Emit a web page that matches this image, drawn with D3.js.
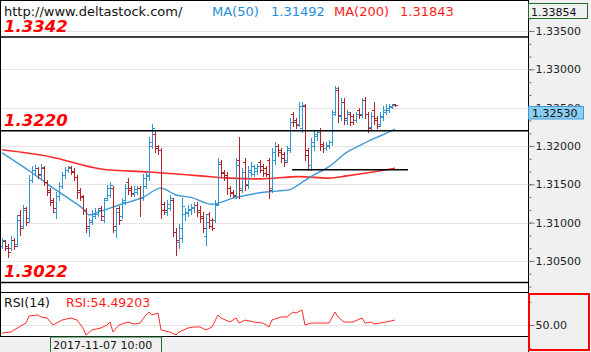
<!DOCTYPE html>
<html><head><meta charset="utf-8">
<script src="https://cdn.jsdelivr.net/npm/d3@7"></script>
<style>body{margin:0;background:#fff}svg{display:block}</style>
</head><body>
<svg id="c" width="591" height="352"></svg>
<script>
// ---------- data ----------
const opens = [1.3070,1.3076,1.3070,1.3067,1.3077,1.3072,1.3110,1.3096,1.3119,1.3106,
1.3156,1.3169,1.3171,1.3162,1.3171,1.3153,1.3143,1.3130,1.3114,1.3135,
1.3148,1.3162,1.3169,1.3173,1.3167,1.3160,1.3143,1.3135,1.3117,1.3093,
1.3101,1.3109,1.3111,1.3119,1.3103,1.3132,1.3136,1.3145,1.3090,1.3119,
1.3109,1.3127,1.3153,1.3145,1.3137,1.3140,1.3145,1.3132,1.3148,1.3161,
1.3200,1.3216,1.3200,1.3195,1.3124,1.3114,1.3119,1.3130,1.3088,1.3075,
1.3080,1.3111,1.3113,1.3117,1.3119,1.3123,1.3117,1.3109,1.3083,1.3111,
1.3103,1.3103,1.3124,1.3177,1.3166,1.3162,1.3145,1.3140,1.3135,1.3182,
1.3145,1.3179,1.3150,1.3166,1.3163,1.3167,1.3179,1.3174,1.3171,1.3182,
1.3145,1.3182,1.3200,1.3195,1.3190,1.3182,1.3197,1.3242,1.3234,1.3229,
1.3223,1.3252,1.3195,1.3175,1.3200,1.3213,1.3221,1.3203,1.3197,1.3200,
1.3205,1.3244,1.3273,1.3239,1.3257,1.3234,1.3242,1.3239,1.3234,1.3247,
1.3242,1.3260,1.3242,1.3225,1.3247,1.3237,1.3229,1.3238,1.3244,1.3247,1.3251,1.3255];
const highs = [1.3080,1.3077,1.3072,1.3083,1.3080,1.3110,1.3117,1.3123,1.3120,1.3162,
1.3174,1.3175,1.3173,1.3177,1.3174,1.3156,1.3145,1.3132,1.3140,1.3153,
1.3166,1.3173,1.3174,1.3174,1.3171,1.3162,1.3145,1.3136,1.3119,1.3106,
1.3117,1.3119,1.3119,1.3122,1.3132,1.3149,1.3153,1.3148,1.3119,1.3122,
1.3132,1.3150,1.3158,1.3148,1.3148,1.3148,1.3148,1.3163,1.3166,1.3212,
1.3229,1.3221,1.3201,1.3197,1.3127,1.3130,1.3136,1.3132,1.3093,1.3098,
1.3132,1.3119,1.3123,1.3124,1.3127,1.3127,1.3122,1.3114,1.3111,1.3114,
1.3106,1.3130,1.3184,1.3182,1.3169,1.3166,1.3148,1.3143,1.3184,1.3212,
1.3171,1.3184,1.3174,1.3179,1.3175,1.3177,1.3182,1.3177,1.3174,1.3184,
1.3197,1.3205,1.3203,1.3197,1.3192,1.3200,1.3237,1.3244,1.3237,1.3257,
1.3257,1.3255,1.3197,1.3210,1.3221,1.3221,1.3223,1.3205,1.3205,1.3208,
1.3247,1.3278,1.3277,1.3263,1.3263,1.3247,1.3244,1.3242,1.3244,1.3250,
1.3263,1.3264,1.3244,1.3244,1.3257,1.3239,1.3244,1.3252,1.3255,1.3255,1.3255,1.3255];
const lows = [1.3067,1.3064,1.3055,1.3064,1.3066,1.3070,1.3084,1.3093,1.3097,1.3101,
1.3153,1.3162,1.3158,1.3158,1.3149,1.3136,1.3123,1.3114,1.3106,1.3130,
1.3145,1.3158,1.3166,1.3163,1.3156,1.3132,1.3130,1.3111,1.3088,1.3083,
1.3098,1.3106,1.3109,1.3103,1.3101,1.3130,1.3133,1.3088,1.3081,1.3098,
1.3106,1.3124,1.3137,1.3135,1.3135,1.3137,1.3109,1.3130,1.3145,1.3156,
1.3197,1.3192,1.3190,1.3106,1.3111,1.3110,1.3117,1.3083,1.3058,1.3067,
1.3075,1.3103,1.3109,1.3111,1.3114,1.3109,1.3101,1.3088,1.3071,1.3093,
1.3090,1.3101,1.3123,1.3161,1.3156,1.3137,1.3135,1.3133,1.3132,1.3132,
1.3140,1.3143,1.3145,1.3161,1.3161,1.3163,1.3166,1.3161,1.3161,1.3132,
1.3140,1.3177,1.3187,1.3179,1.3174,1.3179,1.3192,1.3226,1.3223,1.3226,
1.3218,1.3182,1.3169,1.3169,1.3195,1.3208,1.3195,1.3192,1.3195,1.3197,
1.3201,1.3240,1.3231,1.3234,1.3229,1.3229,1.3227,1.3229,1.3231,1.3237,
1.3238,1.3237,1.3218,1.3221,1.3229,1.3223,1.3226,1.3234,1.3242,1.3244,1.3250,1.3252];
const closes = [1.3077,1.3067,1.3062,1.3077,1.3070,1.3103,1.3093,1.3117,1.3101,1.3156,
1.3169,1.3171,1.3163,1.3173,1.3153,1.3140,1.3127,1.3119,1.3135,1.3148,
1.3162,1.3169,1.3171,1.3166,1.3160,1.3140,1.3133,1.3117,1.3096,1.3103,
1.3111,1.3114,1.3117,1.3109,1.3130,1.3145,1.3149,1.3096,1.3114,1.3103,
1.3130,1.3145,1.3143,1.3139,1.3144,1.3145,1.3132,1.3158,1.3162,1.3205,
1.3223,1.3197,1.3195,1.3117,1.3117,1.3124,1.3132,1.3088,1.3077,1.3093,
1.3122,1.3114,1.3118,1.3120,1.3123,1.3114,1.3106,1.3093,1.3101,1.3096,
1.3093,1.3123,1.3179,1.3165,1.3160,1.3145,1.3139,1.3136,1.3175,1.3143,
1.3166,1.3149,1.3169,1.3174,1.3171,1.3174,1.3169,1.3165,1.3163,1.3143,
1.3192,1.3200,1.3192,1.3184,1.3179,1.3195,1.3231,1.3231,1.3227,1.3252,
1.3253,1.3188,1.3175,1.3205,1.3216,1.3218,1.3200,1.3197,1.3201,1.3205,
1.3242,1.3276,1.3240,1.3257,1.3237,1.3244,1.3231,1.3234,1.3242,1.3240,
1.3260,1.3242,1.3223,1.3239,1.3234,1.3226,1.3239,1.3247,1.3250,1.3252,1.3253,1.3253];

const ma50Idx = [0,10,16,22,27,29,33,39,47,53,58,63,70,77,88,96,99,103,109,115,119,123,126,131];
const ma50Val = [1.3191,1.3165,1.3148,1.3132,1.3118,1.3110,1.3115,1.3123,1.3133,1.3145,1.3136,1.3133,1.3124,1.3132,1.3140,1.3143,1.3150,1.3160,1.3173,1.3192,1.3200,1.3208,1.3213,1.3222];
const ma200Idx = [0,16,33,49,66,76,86,99,109,115,122,131];
const ma200Val = [1.3195,1.3186,1.3170,1.3166,1.3161,1.3158,1.3157,1.3160,1.3158,1.3161,1.3165,1.3171];

const rsiIdx = [0,3,4,8,9,12,13,15,17,20,23,25,27,28,30,33,35,36,37,39,42,44,46,48,49,50,52,53,56,58,59,62,64,66,68,70,72,73,76,78,79,81,84,87,89,90,93,95,97,98,100,101,103,106,109,111,112,114,117,120,121,123,124,126,128,131];
const rsiVal = [42.7,43.6,45.5,51.8,58.2,59.1,57.3,56.4,50.0,54.5,56.4,54.5,47.3,40.9,45.5,47.3,50.0,52.7,43.6,50.0,52.7,50.9,51.8,59.1,61.8,59.1,60.9,45.5,43.6,40.9,43.6,47.3,48.2,48.2,45.5,48.2,59.1,56.4,52.7,56.4,51.8,54.5,52.7,51.8,48.2,54.5,57.3,57.3,61.8,60.9,63.6,50.0,51.8,51.8,51.8,61.8,57.3,52.7,52.7,56.4,51.8,52.7,50.9,51.8,52.7,54.5];

const priceTicks = [1.335,1.330,1.325,1.320,1.315,1.310,1.305];
const levels = [1.3342,1.3220,1.3022];
const levelLabels = ["1.3342","1.3220","1.3022"];
const shortLevel = {price:1.3169, from:96.7, to:135.3};
const lastPrice = 1.32530;
const topPrice = "1.33854";
const rsiTicks = [50];
const timeLabel = "2017-11-07 10:00";
const headerUrl = "http://www.deltastock.com/";
const ma50Label = "1.31492", ma200Label = "1.31843", rsiLabel = "RSI:54.49203";

// ---------- layout ----------
const svg = d3.select("#c");
const W = 591, H = 352, plotR = 528, mainB = 292, rsiT = 293, rsiB = 336;
const UP = "#2f96d2", DOWN = "#b32228";
const FONT = "DejaVu Sans, Verdana, sans-serif";

const x = d3.scaleLinear().domain([0, closes.length - 1]).range([2, 395]);
const y = d3.scaleLinear().domain([1.30108, 1.33904]).range([291, 0]);
const yr = d3.scaleLinear().domain([40, 80]).range([336, 292]);

// backgrounds
svg.append("rect").attr("x",0).attr("y",0).attr("width",W).attr("height",H).attr("fill","#fff");
svg.append("rect").attr("x",plotR).attr("y",0).attr("width",W-plotR).attr("height",H).attr("fill","#f0f0f0");
svg.append("rect").attr("x",0).attr("y",rsiB+1).attr("width",plotR).attr("height",H-rsiB-1).attr("fill","#f0f0f0");

// gridlines
const grid = svg.append("g").attr("shape-rendering","crispEdges");
grid.selectAll("line.g").data(priceTicks).join("line")
  .attr("x1",0).attr("x2",plotR).attr("y1",d=>Math.round(y(d))+0.5).attr("y2",d=>Math.round(y(d))+0.5)
  .attr("stroke","#e4e4e4");
grid.selectAll("line.r").data(rsiTicks).join("line")
  .attr("x1",0).attr("x2",plotR).attr("y1",d=>Math.round(yr(d))+0.5).attr("y2",d=>Math.round(yr(d))+0.5)
  .attr("stroke","#e4e4e4");

// moving averages
const ma200 = ma200Idx.map((i,k)=>({i, v:ma200Val[k]}));
const ma50 = ma50Idx.map((i,k)=>({i, v:ma50Val[k]}));
const lineGen = d3.line().x(d=>x(d.i)).y(d=>y(d.v)).curve(d3.curveMonotoneX);
svg.append("path").datum(ma200).attr("d",lineGen).attr("fill","none").attr("stroke","#ff2a2a").attr("stroke-width",1.6);
svg.append("path").datum(ma50).attr("d",lineGen).attr("fill","none").attr("stroke","#3d9ad8").attr("stroke-width",1.4);

// OHLC bars
const bars = svg.append("g").attr("shape-rendering","crispEdges");
closes.forEach((c,i)=>{
  const cx = Math.round(x(i));
  const col = c >= opens[i] ? UP : DOWN;
  const yh = Math.round(y(highs[i])), yl = Math.round(y(lows[i]));
  const yo = Math.round(y(opens[i])), yc = Math.round(y(c));
  bars.append("rect").attr("x",cx).attr("y",yh).attr("width",1).attr("height",Math.max(1,yl-yh+1)).attr("fill",col);
  bars.append("rect").attr("x",cx-2).attr("y",yo).attr("width",2).attr("height",1).attr("fill",col);
  bars.append("rect").attr("x",cx+1).attr("y",yc).attr("width",2).attr("height",1).attr("fill",col);
});

// level lines
svg.selectAll("line.lv").data(levels).join("line")
  .attr("x1",0).attr("x2",plotR).attr("y1",d=>y(d)).attr("y2",d=>y(d))
  .attr("stroke","#000").attr("stroke-width",1.5);
svg.append("line").attr("x1",x(shortLevel.from)).attr("x2",x(shortLevel.to))
  .attr("y1",y(shortLevel.price)).attr("y2",y(shortLevel.price)).attr("stroke","#000").attr("stroke-width",1.5);
svg.selectAll("text.lv").data(levels).join("text")
  .attr("x",4).attr("y",d=>y(d)-5).text((d,i)=>levelLabels[i])
  .attr("font-family",FONT).attr("font-size",16.5).attr("font-weight","bold").attr("font-style","italic")
  .attr("fill","#ff0000");

// RSI line
const rsiData = rsiIdx.map((i,k)=>({i, v:rsiVal[k]}));
svg.append("path").datum(rsiData)
  .attr("d", d3.line().x(d=>x(d.i)).y(d=>yr(d.v)))
  .attr("fill","none").attr("stroke","#ff2a2a").attr("stroke-width",1);

// frame lines
const frame = svg.append("g").attr("stroke","#000").attr("shape-rendering","crispEdges");
frame.append("line").attr("x1",0).attr("x2",plotR).attr("y1",0.5).attr("y2",0.5);
frame.append("line").attr("x1",0.5).attr("x2",0.5).attr("y1",0).attr("y2",rsiB);
frame.append("line").attr("x1",0).attr("x2",plotR).attr("y1",mainB+0.5).attr("y2",mainB+0.5);
frame.append("line").attr("x1",0).attr("x2",plotR).attr("y1",rsiB+0.5).attr("y2",rsiB+0.5);
frame.append("line").attr("x1",plotR+0.5).attr("x2",plotR+0.5).attr("y1",0).attr("y2",H);

// price axis
const minorTicks = d3.range(1.30166, 1.3390, 0.005/3);
const axMinor = d3.axisRight(y).tickValues(minorTicks).tickSize(3).tickFormat("");
const axMajor = d3.axisRight(y).tickValues(priceTicks).tickSize(6).tickPadding(1).tickFormat(d3.format(".5f"));
const gMinor = svg.append("g").attr("transform",`translate(${plotR+0.5},0)`).call(axMinor);
const gMajor = svg.append("g").attr("transform",`translate(${plotR+0.5},0)`).call(axMajor);
[gMinor,gMajor].forEach(g=>{ g.select(".domain").remove(); g.selectAll("line").attr("stroke","#777"); });
gMajor.selectAll("text").attr("font-family",FONT).attr("font-size",11).attr("fill","#222");

// RSI axis
const axR = d3.axisRight(yr).tickValues(rsiTicks).tickSize(6).tickPadding(1).tickFormat(d3.format(".2f"));
const gR = svg.append("g").attr("transform",`translate(${plotR+0.5},0)`).call(axR);
gR.select(".domain").remove(); gR.selectAll("line").attr("stroke","#777");
gR.selectAll("text").attr("font-family",FONT).attr("font-size",11).attr("fill","#222");
const axR2 = d3.axisRight(yr).tickValues([71, 29]).tickSize(3).tickFormat("");
const gR2 = svg.append("g").attr("transform",`translate(${plotR+0.5},0)`).call(axR2);
gR2.select(".domain").remove(); gR2.selectAll("line").attr("stroke","#777");
svg.append("rect").attr("x",plotR+1).attr("y",rsiT+1).attr("width",W-plotR-3).attr("height",H-rsiT-3)
  .attr("fill","none").attr("stroke","#ff0000").attr("stroke-width",2);

// current price box
const lpY = Math.round(y(lastPrice));
svg.append("rect").attr("x",plotR+0.5).attr("y",lpY+1.5).attr("width",55).attr("height",12.5)
  .attr("fill","#8ccdf2").attr("stroke","#3b9bd8");
svg.append("text").attr("x",plotR+4).attr("y",lpY+12).text(d3.format(".5f")(lastPrice))
  .attr("font-family",FONT).attr("font-size",11).attr("fill","#111");

// top price box
svg.append("rect").attr("x",plotR+0.5).attr("y",3.5).attr("width",59).attr("height",15)
  .attr("fill","#f0f0f0").attr("stroke","#1f6b2a");
svg.append("text").attr("x",plotR+3).attr("y",15.5).text(topPrice)
  .attr("font-family",FONT).attr("font-size",11).attr("fill","#111");

// time label box
svg.append("rect").attr("x",50.5).attr("y",rsiB+1).attr("width",111).attr("height",16)
  .attr("fill","#f0f0f0").attr("stroke","#1f6b2a");
svg.append("text").attr("x",53).attr("y",348.5).text(timeLabel)
  .attr("font-family",FONT).attr("font-size",11).attr("fill","#111");

// header
const hdr = [
  {t:headerUrl, x:4, c:"#111"},
  {t:"MA(50)", x:212, c:"#1b8fd6"},
  {t:ma50Label, x:271, c:"#1b8fd6"},
  {t:"MA(200)", x:334, c:"#ff1a1a"},
  {t:ma200Label, x:400, c:"#ff1a1a"}
];
svg.selectAll("text.h").data(hdr).join("text")
  .attr("x",d=>d.x).attr("y",16).text(d=>d.t)
  .attr("font-family",FONT).attr("font-size",13).attr("fill",d=>d.c);

// RSI header
svg.append("text").attr("x",4).attr("y",306.5).text("RSI(14)")
  .attr("font-family",FONT).attr("font-size",12.5).attr("fill","#111");
svg.append("text").attr("x",66).attr("y",306.5).text(rsiLabel)
  .attr("font-family",FONT).attr("font-size",12.5).attr("fill","#ff1a1a");
</script>
</body></html>
